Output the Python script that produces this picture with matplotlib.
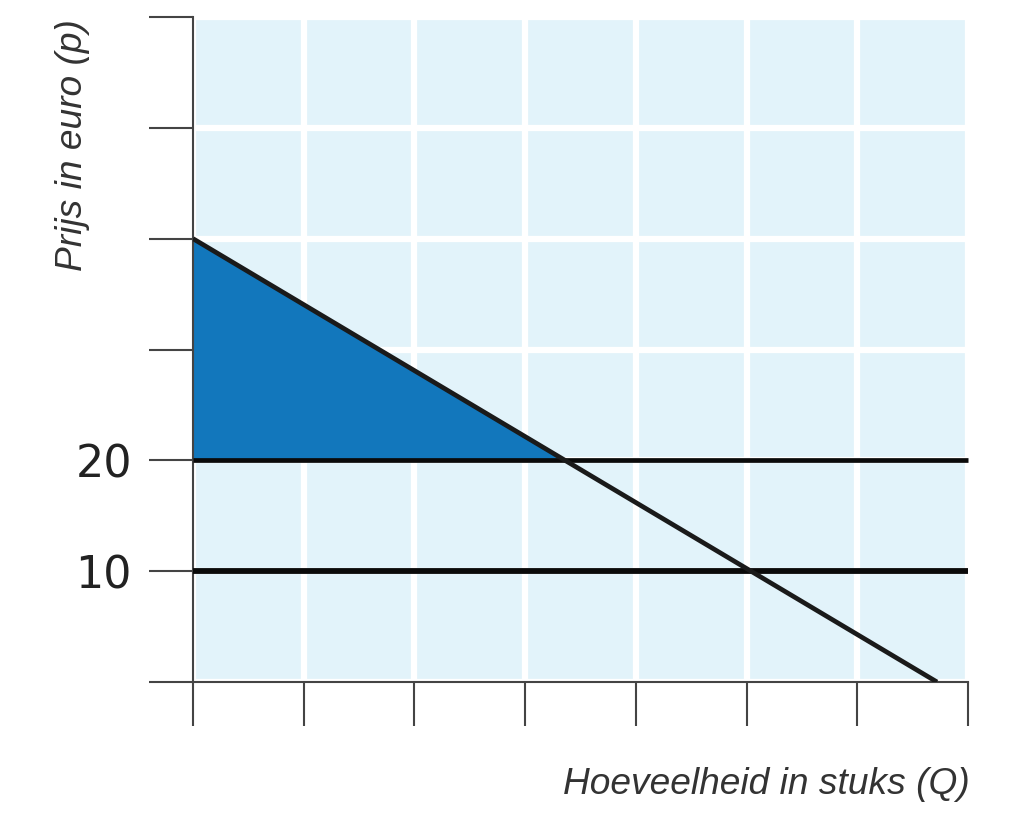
import matplotlib
matplotlib.use("Agg")
import matplotlib.pyplot as plt
import numpy as np

# demand line (price in euro vs quantity)
demand_q = [0, 6.72]
demand_p = [40, 0]
# horizontal price lines
price_lines = [20, 10]
price_widths = [3.4, 4.2]
y_ticks = [0, 10, 20, 30, 40, 50, 60]
y_labels = ["", "10", "20", "", "", "", ""]
x_ticks = [0, 1, 2, 3, 4, 5, 6, 7]

plt.rcParams['font.family'] = ['Liberation Sans', 'DejaVu Sans']

fig = plt.figure(figsize=(10.1, 8.15), dpi=100)
ax = fig.add_axes([193 / 1010, 133 / 815, 775 / 1010, 665 / 815])
ax.set_facecolor('#e2f3fa')
ax.set_xlim(0, 7)
ax.set_ylim(0, 60)

ax.set_xticks(x_ticks)
ax.set_xticklabels([])
ax.set_yticks(y_ticks)
ax.set_yticklabels(y_labels, family='DejaVu Sans')
ax.grid(True, color='white', linewidth=4.5, zorder=0)
ax.set_axisbelow(True)
ax.tick_params(axis='both', direction='out', length=32, width=1.5,
               color='#444444', labelsize=32, labelcolor='#222222', pad=12)

for side in ['top', 'right']:
    ax.spines[side].set_visible(False)
for side in ['left', 'bottom']:
    ax.spines[side].set_color('#444444')
    ax.spines[side].set_linewidth(1.5)

# consumer surplus triangle above price 20
p_top = price_lines[0]
q_star = np.interp(p_top, demand_p[::-1], demand_q[::-1])
ax.fill([0, 0, q_star], [demand_p[0], p_top, p_top], color='#1277bc', zorder=2,
        linewidth=0)

for p, w in zip(price_lines, price_widths):
    ax.plot([0, 7], [p, p], color='#0a0a0a', linewidth=w, zorder=3,
            solid_capstyle='butt', clip_on=False)

ax.plot(demand_q, demand_p, color='#1a1a1a', linewidth=3.4, zorder=4,
        solid_capstyle='butt')

fig.text(72 / 1010, 1 - 19 / 815, "Prijs in euro (p)", rotation=90,
         ha='center', va='top', fontsize=26.7, style='italic', color='#333333')
fig.text(970 / 1010, 1 - 794 / 815, "Hoeveelheid in stuks (Q)",
         ha='right', va='baseline', fontsize=26.7, style='italic', color='#333333')

fig.savefig('out.png', dpi=100)
